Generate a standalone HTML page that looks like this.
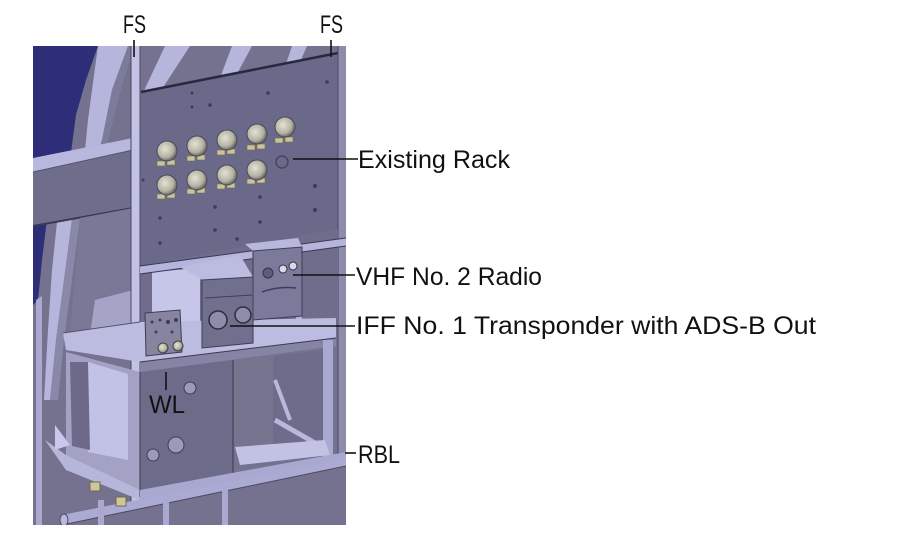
<!DOCTYPE html>
<html><head><meta charset="utf-8"><style>
html,body{margin:0;padding:0;background:#fff;}
svg{display:block;}
</style></head><body>
<svg width="900" height="542" viewBox="0 0 900 542" xmlns="http://www.w3.org/2000/svg">
<defs>
<clipPath id="c"><rect x="33" y="46" width="313" height="479"/></clipPath>
<radialGradient id="kn" cx="0.4" cy="0.4" r="0.6"><stop offset="0" stop-color="#e4e2d4"/><stop offset="0.7" stop-color="#b4b2a2"/><stop offset="1" stop-color="#6e6c66"/></radialGradient>
</defs>
<g clip-path="url(#c)">
<rect x="33" y="46" width="313" height="479" fill="#74728f"/>
<!-- navy sky -->
<polygon points="33,46 98,46 86,80 76,115 70,160 33,168" fill="#2e2d78"/>
<polygon points="33,222 47,219 42,260 38,300 33,305" fill="#2e2d78"/>
<!-- left curved frame band -->
<polygon points="98,46 128,46 112,90 102,140 96,160 84,160 88,120 92,90" fill="#b6b6dc"/>
<polygon points="128,46 134,46 118,100 106,150 100,160 102,140 112,90" fill="#7d7b9b"/>
<polygon points="57,222 72,219 64,280 56,340 50,400 44,400 48,330 52,270" fill="#b6b6dc"/>
<polygon points="72,219 80,218 72,280 64,340 58,400 50,400 56,340 64,280" fill="#8a88a8"/>
<polygon points="36,300 42,296 42,525 36,525" fill="#a8a8d0"/>
<!-- stripes above panel -->
<polygon points="165,46 190,46 160,92 142,95" fill="#b6b6dc"/>
<polygon points="232,46 252,46 238,72 220,78" fill="#b6b6dc"/>
<polygon points="292,46 307,46 300,62 286,64" fill="#b6b6dc"/>
<!-- horizontal beam -->
<polygon points="33,158 133,138 133,150 33,172" fill="#b8b8de"/>
<polygon points="33,172 133,150 133,208 33,226" fill="#6f6d8c"/>
<line x1="33" y1="226" x2="133" y2="208" stroke="#3a3852" stroke-width="2"/>
<line x1="33" y1="172" x2="133" y2="150" stroke="#55536e" stroke-width="1"/>
<!-- area under beam left -->
<polygon points="80,218 133,208 133,330 70,335" fill="#7a7896"/>
<polygon points="95,300 133,290 133,330 90,335" fill="#a6a4c6"/>
<!-- vertical post left -->
<rect x="131" y="46" width="9" height="460" fill="#c2c2e4"/>
<line x1="131" y1="46" x2="131" y2="506" stroke="#4a4862" stroke-width="1"/>
<line x1="140" y1="46" x2="140" y2="506" stroke="#4a4862" stroke-width="1"/>
<!-- panel -->
<polygon points="141,92 343,52 343,228 141,266" fill="#6b6989"/>
<line x1="141" y1="92" x2="343" y2="52" stroke="#2a283e" stroke-width="2.5"/>
<rect x="338" y="46" width="8" height="420" fill="#8e8cac"/>
<line x1="338" y1="46" x2="338" y2="466" stroke="#4a4862" stroke-width="1"/>
<!-- panel holes -->
<g fill="#3e3c56">
<circle cx="327" cy="82" r="1.8"/><circle cx="268" cy="93" r="1.8"/><circle cx="192" cy="93" r="1.5"/><circle cx="192" cy="107" r="1.5"/><circle cx="210" cy="105" r="1.8"/><circle cx="315" cy="186" r="2"/><circle cx="315" cy="210" r="2"/><circle cx="260" cy="197" r="1.8"/><circle cx="260" cy="222" r="1.8"/><circle cx="215" cy="207" r="1.8"/><circle cx="215" cy="230" r="1.8"/><circle cx="160" cy="218" r="1.8"/><circle cx="160" cy="243" r="1.8"/><circle cx="237" cy="239" r="1.8"/><circle cx="143" cy="180" r="1.5"/>
</g>
<!-- connector bases -->
<g fill="#c9c29a" stroke="#6e6a52" stroke-width="0.6">
<rect x="157" y="161" width="8" height="5"/><rect x="167" y="160" width="8" height="5"/>
<rect x="187" y="156" width="8" height="5"/><rect x="197" y="155" width="8" height="5"/>
<rect x="217" y="150" width="8" height="5"/><rect x="227" y="149" width="8" height="5"/>
<rect x="247" y="145" width="8" height="5"/><rect x="257" y="144" width="8" height="5"/>
<rect x="275" y="138" width="8" height="5"/><rect x="285" y="137" width="8" height="5"/>
<rect x="157" y="194" width="8" height="5"/><rect x="167" y="193" width="8" height="5"/>
<rect x="187" y="189" width="8" height="5"/><rect x="197" y="188" width="8" height="5"/>
<rect x="217" y="184" width="8" height="5"/><rect x="227" y="183" width="8" height="5"/>
<rect x="247" y="179" width="8" height="5"/><rect x="257" y="178" width="8" height="5"/>
</g>
<g fill="url(#kn)" stroke="#4a4858" stroke-width="1">
<circle cx="167" cy="151" r="10"/><circle cx="197" cy="146" r="10"/><circle cx="227" cy="140" r="10"/><circle cx="257" cy="134" r="10"/><circle cx="285" cy="127" r="10"/>
<circle cx="167" cy="185" r="10"/><circle cx="197" cy="180" r="10"/><circle cx="227" cy="175" r="10"/><circle cx="257" cy="170" r="10"/>
</g>
<circle cx="282" cy="162" r="6" fill="none" stroke="#3e3c56" stroke-width="1.2"/>
<!-- region below panel -->
<polygon points="141,266 338,229 338,330 141,335" fill="#6f6d8b"/>
<polygon points="152,272 200,268 200,330 152,332" fill="#c6c6e8"/>
<polygon points="140,266 346,238 346,246 140,274" fill="#b4b4dc"/>
<line x1="140" y1="274" x2="346" y2="246" stroke="#3a3852" stroke-width="1"/>
<line x1="140" y1="266" x2="346" y2="238" stroke="#3a3852" stroke-width="1"/>
<rect x="296" y="246" width="6" height="90" fill="#b0b0d8"/>
<!-- shelf -->
<polygon points="63,333 140,322 336,318 336,338 140,362 66,350" fill="#bcbce0"/>
<polygon points="140,362 336,338 336,346 140,372" fill="#8684a4"/>
<line x1="140" y1="362" x2="336" y2="338" stroke="#3a3852" stroke-width="1"/>
<line x1="63" y1="333" x2="140" y2="322" stroke="#55536e" stroke-width="1"/>
<!-- VHF box -->
<polygon points="245,244 298,238 302,247 253,251" fill="#b8b8dc"/>
<polygon points="253,251 302,247 302,316 253,320" fill="#7c7a9a" stroke="#3e3c56" stroke-width="1"/>
<circle cx="268" cy="273" r="5" fill="#5e5c78" stroke="#33314a"/>
<circle cx="283" cy="269" r="4" fill="#d8d8e8" stroke="#33314a"/>
<circle cx="293" cy="266" r="4" fill="#d8d8e8" stroke="#33314a"/>
<path d="M262,292 Q278,286 296,288" stroke="#3e3c56" fill="none" stroke-width="1.5"/>
<!-- IFF box -->
<polygon points="180,267 240,255 253,277 202,280" fill="#bcbce0"/>
<polygon points="202,280 253,277 253,343 202,348" fill="#716f8e" stroke="#3e3c56" stroke-width="1"/>
<line x1="205" y1="298" x2="252" y2="295" stroke="#3e3c56"/>
<circle cx="218" cy="320" r="9" fill="#8e8ca8" stroke="#2e2c40" stroke-width="1.5"/>
<circle cx="243" cy="315" r="8" fill="#8e8ca8" stroke="#2e2c40" stroke-width="1.5"/>
<!-- small WL box -->
<polygon points="145,313 180,310 182,352 146,356" fill="#86849f" stroke="#3e3c56" stroke-width="1"/>
<g fill="#3e3c56"><circle cx="152" cy="322" r="1.5"/><circle cx="160" cy="320" r="1.5"/><circle cx="168" cy="322" r="2"/><circle cx="176" cy="320" r="2"/><circle cx="156" cy="332" r="1.5"/><circle cx="172" cy="332" r="1.5"/></g>
<circle cx="163" cy="348" r="5" fill="url(#kn)" stroke="#444"/>
<circle cx="178" cy="346" r="5" fill="url(#kn)" stroke="#444"/>
<!-- lower box left -->
<polygon points="66,352 140,372 140,497 66,470" fill="#a4a2c4"/>
<polygon points="88,362 128,374 128,460 88,452" fill="#c2c2e6"/>
<polygon points="70,362 88,362 90,450 72,446" fill="#6c6a88"/>
<polygon points="45,440 66,470 140,500 140,490 66,455" fill="#b6b6da"/>
<polygon points="55,425 70,445 55,450" fill="#c8c8ea"/>
<!-- lower box center -->
<polygon points="140,372 233,360 233,487 140,497" fill="#6d6b8a"/>
<line x1="140" y1="372" x2="140" y2="497" stroke="#3a3852"/>
<circle cx="190" cy="388" r="6" fill="#9c9ab8" stroke="#3e3c56"/>
<circle cx="176" cy="445" r="8" fill="#9c9ab8" stroke="#3e3c56"/>
<circle cx="153" cy="455" r="6" fill="#9c9ab8" stroke="#3e3c56"/>
<!-- lower box right -->
<polygon points="233,360 273,356 273,445 233,450" fill="#76748f"/>
<polygon points="273,356 325,350 325,440 273,445" fill="#6e6c8a"/>
<line x1="275" y1="380" x2="290" y2="420" stroke="#b8b8dc" stroke-width="4"/>
<line x1="275" y1="420" x2="322" y2="447" stroke="#b8b8dc" stroke-width="5"/>
<rect x="323" y="340" width="10" height="118" fill="#a8a8d0"/>
<polygon points="235,447 325,440 330,455 240,465" fill="#c2c2e4"/>
<line x1="233" y1="360" x2="233" y2="490" stroke="#3a3852"/>
<!-- bottom rails -->
<polygon points="140,490 346,452 346,460 140,500" fill="#a8a8d0"/>
<line x1="140" y1="500" x2="346" y2="460" stroke="#3a3852"/>
<polygon points="62,515 346,458 346,466 62,525" fill="#aaaad2"/>
<line x1="62" y1="525" x2="346" y2="466" stroke="#4a4862"/>
<ellipse cx="64" cy="520" rx="4" ry="6" fill="#b8b8dc" stroke="#4a4862"/>
<rect x="98" y="500" width="6" height="25" fill="#a8a8d0"/>
<rect x="163" y="498" width="6" height="27" fill="#a8a8d0"/>
<rect x="222" y="486" width="6" height="39" fill="#a8a8d0"/>
<!-- tan connectors bottom -->
<rect x="90" y="482" width="10" height="9" fill="#cfc79c" stroke="#6e6a52"/>
<rect x="116" y="497" width="10" height="9" fill="#cfc79c" stroke="#6e6a52"/>
</g>
<!-- leaders -->
<g stroke="#111" stroke-width="1.6">
<line x1="134" y1="40" x2="134" y2="57"/>
<line x1="331" y1="40" x2="331" y2="57"/>
<line x1="293" y1="159" x2="358" y2="159"/>
<line x1="293" y1="275" x2="355" y2="275"/>
<line x1="230" y1="326" x2="355" y2="326"/>
<line x1="345" y1="453" x2="356" y2="453"/>
<line x1="166" y1="372" x2="166" y2="390"/>
</g>
<g font-family="'Liberation Sans', sans-serif" font-size="25" fill="#111">
<text x="123" y="33" textLength="23" lengthAdjust="spacingAndGlyphs">FS</text>
<text x="320" y="33" textLength="23" lengthAdjust="spacingAndGlyphs">FS</text>
<text x="358" y="168" textLength="152" lengthAdjust="spacingAndGlyphs">Existing Rack</text>
<text x="356" y="285" textLength="186" lengthAdjust="spacingAndGlyphs">VHF No. 2 Radio</text>
<text x="356" y="334" textLength="460" lengthAdjust="spacingAndGlyphs">IFF No. 1 Transponder with ADS-B Out</text>
<text x="358" y="463" textLength="42" lengthAdjust="spacingAndGlyphs">RBL</text>
<text x="149" y="413" textLength="36" lengthAdjust="spacingAndGlyphs">WL</text>
</g>
</svg>
</body></html>
